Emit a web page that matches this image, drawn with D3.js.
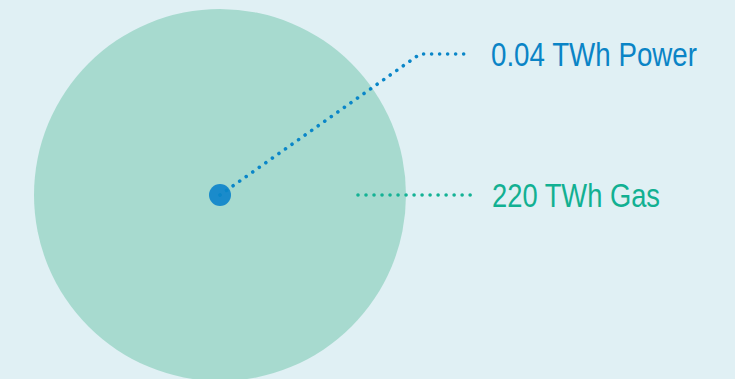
<!DOCTYPE html>
<html>
<head>
<meta charset="utf-8">
<script src="https://cdn.jsdelivr.net/npm/d3@7"></script>
<style>
  html, body { margin: 0; padding: 0; background: #e0f0f4; }
  svg { display: block; }
  text { font-family: "Liberation Sans Narrow", "Arial Narrow", "Liberation Sans", sans-serif; }
</style>
</head>
<body>
<svg id="chart" width="735" height="379"></svg>
<script>
// Data
const categories = ["Gas", "Power"];
const values = [220, 0.04];
const units = ["TWh", "TWh"];
const labels = ["220 TWh Gas", "0.04 TWh Power"];

const W = 735, H = 379;
const svg = d3.select("#chart");
svg.append("rect").attr("width", W).attr("height", H).attr("fill", "#e0f0f4");

const cx = 220, cy = 195;
const rScale = d3.scaleSqrt().domain([0, d3.max(values)]).range([0, 186]);
const minR = 11;

const fills = { Gas: "#a7dacf", Power: "#1a8bcb" };
const lineColors = { Gas: "#14b295", Power: "#0a86c8" };
const textColors = { Gas: "#12b092", Power: "#0a84c6" };

const data = categories.map((c, i) => ({ cat: c, value: values[i], label: labels[i] }));

svg.selectAll("circle.bubble")
  .data(data)
  .join("circle")
  .attr("class", "bubble")
  .attr("cx", cx)
  .attr("cy", cy)
  .attr("r", d => Math.max(rScale(d.value), minR))
  .attr("fill", d => fills[d.cat]);

// leader lines
const leaders = {
  Gas: [[358, cy], [472, cy]],
  Power: [[cx, cy], [420, 54], [470, 54]]
};
const labelPos = {
  Gas: [492, 207],
  Power: [491, 66]
};
const labelWidth = { Gas: 168, Power: 206 };

const line = d3.line();
data.forEach(d => {
  svg.append("path")
    .attr("d", line(leaders[d.cat]))
    .attr("fill", "none")
    .attr("stroke", lineColors[d.cat])
    .attr("stroke-width", 3.6)
    .attr("stroke-linecap", "round")
    .attr("stroke-dasharray", "0.01 8");
  const t = svg.append("text")
    .attr("x", labelPos[d.cat][0])
    .attr("y", labelPos[d.cat][1])
    .attr("fill", textColors[d.cat])
    .attr("font-size", 33)
    .text(d.label);
  t.attr("textLength", labelWidth[d.cat]).attr("lengthAdjust", "spacingAndGlyphs");
});
</script>
</body>
</html>
